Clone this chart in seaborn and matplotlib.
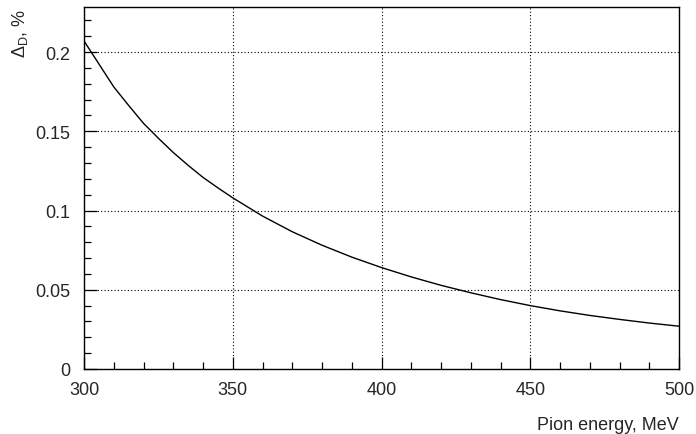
import matplotlib
matplotlib.use("Agg")
import matplotlib.pyplot as plt
import seaborn as sns
import pandas as pd
from matplotlib.ticker import MultipleLocator

energy = [300, 305, 310, 315, 320, 325, 330, 335, 340, 345, 350, 360, 370, 380, 390, 400,
          410, 420, 430, 440, 450, 460, 470, 480, 490, 500]
delta_d = [0.207, 0.1925, 0.178, 0.1663, 0.155, 0.1456, 0.1366, 0.1285, 0.1209, 0.1143, 0.108,
           0.0965, 0.0866, 0.0781, 0.0706, 0.064,
           0.0581, 0.0528, 0.0481, 0.0438, 0.040, 0.0367, 0.0338, 0.0313, 0.0290, 0.027]
x_ticks = [300, 350, 400, 450, 500]
y_ticks = [0, 0.05, 0.1, 0.15, 0.2]
y_tick_labels = ["0", "0.05", "0.1", "0.15", "0.2"]

sns.set_style("white")
plt.rcParams['font.family'] = ['Liberation Sans', 'DejaVu Sans']
plt.rcParams['mathtext.fontset'] = 'custom'
plt.rcParams['mathtext.rm'] = 'Liberation Sans'
plt.rcParams['mathtext.it'] = 'Liberation Sans:italic'

df = pd.DataFrame({"E": energy, "D": delta_d})

fig = plt.figure(figsize=(6.96, 4.35), dpi=100)
ax = fig.add_axes([84/696, 1 - 370/435, (679-84)/696, (370-8)/435])
sns.lineplot(data=df, x="E", y="D", ax=ax, color="black", linewidth=1.0)

ax.set_xlim(300, 500)
ax.set_ylim(0, 0.2284)
ax.set_xticks(x_ticks)
ax.set_xticklabels([str(t) for t in x_ticks])
ax.set_yticks(y_ticks)
ax.set_yticklabels(y_tick_labels)
ax.xaxis.set_minor_locator(MultipleLocator(10))
ax.yaxis.set_minor_locator(MultipleLocator(0.01))
ax.tick_params(axis="both", which="major", direction="in", length=9, width=0.9,
               labelsize=13, color="black", bottom=True, left=True, top=False, right=False)
ax.tick_params(axis="both", which="minor", direction="in", length=5, width=0.9,
               color="black", bottom=True, left=True, top=False, right=False)
ax.tick_params(axis="x", which="major", pad=9)
ax.tick_params(axis="y", which="major", pad=10)
ax.grid(True, which="major", linestyle=(0, (1, 2)), color="black", linewidth=0.8)
for s in ax.spines.values():
    s.set_visible(True)
    s.set_color("black")
    s.set_linewidth(1.0)

ax.set_xlabel("")
ax.set_ylabel("")
fig.text(679/696, 1 - 426/435, "Pion energy, MeV", ha="right", va="center", fontsize=13)
fig.text(20/696, 1 - 9/435, r"$\Delta_{\mathrm{D}}$, %", rotation=90, ha="center", va="top", fontsize=13)

fig.savefig("out.png", dpi=100)
